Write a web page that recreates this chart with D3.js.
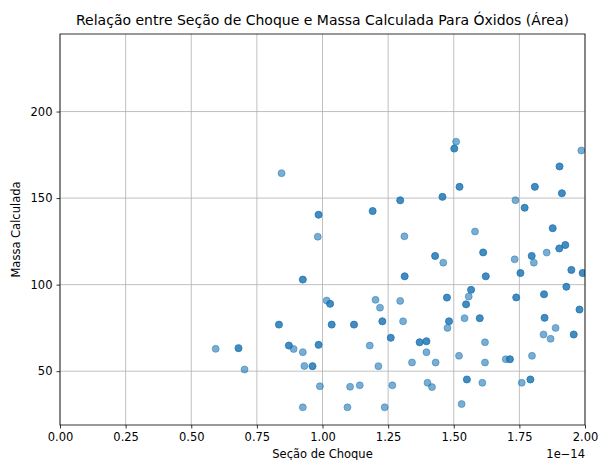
<!DOCTYPE html>
<html>
<head>
<meta charset="utf-8">
<script src="https://cdn.jsdelivr.net/npm/d3@7"></script>
<style>
  body { margin: 0; background: #fff; }
  text { font-family: "DejaVu Sans", sans-serif; fill: #000; }
</style>
</head>
<body>
<svg id="chart" width="600" height="460"></svg>
<script>
// Seção de choque (em unidades de 1e-14) e massa calculada
const secao = [
  0.593, 0.680, 0.680, 0.703, 0.834, 0.834, 0.844, 0.872, 0.872, 0.890,
  0.925, 0.925, 0.925, 0.931, 0.962, 0.962, 0.925, 0.985, 0.985, 0.982,
  0.985, 0.985, 0.990, 1.016, 1.029, 1.029, 1.035, 1.035, 1.095, 1.105,
  1.120, 1.120, 1.142, 1.180, 1.191, 1.191, 1.202, 1.213, 1.219, 1.228,
  1.228, 1.237, 1.260, 1.260, 1.266, 1.296, 1.296, 1.296, 1.307, 1.312,
  1.313, 1.313, 1.341, 1.370, 1.370, 1.396, 1.396, 1.396, 1.400, 1.417,
  1.429, 1.429, 1.431, 1.457, 1.457, 1.460, 1.474, 1.474, 1.476, 1.482,
  1.482, 1.502, 1.502, 1.509, 1.522, 1.522, 1.520, 1.530, 1.541, 1.547,
  1.547, 1.550, 1.550, 1.557, 1.566, 1.566, 1.581, 1.599, 1.599, 1.609,
  1.612, 1.612, 1.619, 1.619, 1.622, 1.622, 1.698, 1.714, 1.714, 1.732,
  1.735, 1.738, 1.738, 1.754, 1.754, 1.759, 1.770, 1.770, 1.792, 1.792,
  1.797, 1.797, 1.798, 1.805, 1.809, 1.809, 1.844, 1.844, 1.842, 1.846,
  1.846, 1.854, 1.869, 1.877, 1.877, 1.888, 1.902, 1.902, 1.903, 1.903,
  1.912, 1.912, 1.925, 1.925, 1.929, 1.929, 1.948, 1.948, 1.957, 1.957,
  1.979, 1.979, 1.986, 1.991, 1.991
];
const massa = [
  62.9, 63.3, 63.3, 51.0, 76.9, 76.9, 164.4, 64.8, 64.8, 62.8,
  61.0, 102.9, 102.9, 53.0, 52.9, 52.9, 29.1, 140.4, 140.4, 127.7,
  65.2, 65.2, 41.3, 90.8, 88.9, 88.9, 76.9, 76.9, 29.1, 41.0,
  76.9, 76.9, 41.8, 64.8, 142.5, 142.5, 91.2, 52.9, 86.7, 78.8,
  78.8, 29.1, 69.3, 69.3, 41.8, 148.7, 148.7, 90.6, 78.8, 127.9,
  104.8, 104.8, 55.0, 66.7, 66.7, 67.3, 67.3, 61.0, 43.3, 40.8,
  116.6, 116.6, 55.0, 150.7, 150.7, 112.7, 92.5, 92.5, 75.0, 78.8,
  78.8, 178.6, 178.6, 182.6, 156.5, 156.5, 58.9, 31.0, 80.6, 88.6,
  88.6, 45.2, 45.2, 93.1, 97.0, 97.0, 130.7, 80.6, 80.6, 43.3,
  118.6, 118.6, 66.7, 55.0, 104.8, 104.8, 56.9, 56.9, 56.9, 114.6,
  148.8, 92.6, 92.6, 106.7, 106.7, 43.3, 144.4, 144.4, 45.2, 45.2,
  116.6, 116.6, 58.9, 112.7, 156.5, 156.5, 94.4, 94.4, 71.2, 80.8,
  80.8, 118.5, 68.7, 132.6, 132.6, 75.0, 120.9, 120.9, 168.3, 168.3,
  152.8, 152.8, 122.9, 122.9, 98.8, 98.8, 108.5, 108.5, 71.2, 71.2,
  85.6, 85.6, 177.5, 106.7, 106.7
];
const xTicks = [0, 0.25, 0.5, 0.75, 1.0, 1.25, 1.5, 1.75, 2.0];
const yTicks = [50, 100, 150, 200];

const svg = d3.select('#chart');
const margin = { top: 34, right: 15, bottom: 35, left: 60 },
      width = 600 - margin.left - margin.right,
      height = 460 - margin.top - margin.bottom;

const g = svg.append('g')
  .attr('transform', `translate(${margin.left},${margin.top})`);

const x = d3.scaleLinear().domain([0, 2.0]).range([0, width]);
const y = d3.scaleLinear().domain([18.9, 244.8]).range([height, 0]);

// grade
g.append('g')
  .selectAll('line')
  .data(xTicks)
  .enter().append('line')
  .attr('x1', d => x(d)).attr('x2', d => x(d))
  .attr('y1', 0).attr('y2', height)
  .attr('stroke', '#b0b0b0').attr('stroke-width', 0.8);
g.append('g')
  .selectAll('line')
  .data(yTicks)
  .enter().append('line')
  .attr('x1', 0).attr('x2', width)
  .attr('y1', d => y(d)).attr('y2', d => y(d))
  .attr('stroke', '#b0b0b0').attr('stroke-width', 0.8);

svg.append('clipPath').attr('id', 'area')
  .append('rect').attr('width', width).attr('height', height);

g.append('g')
  .attr('clip-path', 'url(#area)')
  .selectAll('circle')
  .data(secao.map((s, i) => [s, massa[i]]))
  .enter().append('circle')
  .attr('cx', d => x(d[0]))
  .attr('cy', d => y(d[1]))
  .attr('r', 3.5)
  .attr('fill', '#1f77b4')
  .attr('fill-opacity', 0.6)
  .attr('stroke', '#1f77b4')
  .attr('stroke-opacity', 0.6)
  .attr('stroke-width', 0.8);

const xAxis = g.append('g')
  .attr('transform', `translate(0,${height})`)
  .call(d3.axisBottom(x).tickValues(xTicks).tickFormat(d3.format('.2f')).tickSizeOuter(0).tickSize(3.5).tickPadding(4));
const yAxis = g.append('g')
  .call(d3.axisLeft(y).tickValues(yTicks).tickSizeOuter(0).tickSize(3.5).tickPadding(4));
[xAxis, yAxis].forEach(a => {
  a.select('.domain').remove();
  a.selectAll('text').attr('font-size', 11.5).attr('font-family', '"DejaVu Sans", sans-serif').attr('fill', '#000');
  a.selectAll('line').attr('stroke', '#000').attr('stroke-width', 0.8);
});

g.append('rect')
  .attr('width', width).attr('height', height)
  .attr('fill', 'none').attr('stroke', '#000').attr('stroke-width', 0.8);

svg.append('text')
  .attr('x', margin.left + width / 2).attr('y', 25)
  .attr('text-anchor', 'middle').attr('font-size', 14)
  .text('Relação entre Seção de Choque e Massa Calculada Para Óxidos (Área)');

svg.append('text')
  .attr('x', margin.left + width / 2).attr('y', 458)
  .attr('text-anchor', 'middle').attr('font-size', 11.5)
  .text('Seção de Choque');

svg.append('text')
  .attr('x', margin.left + width).attr('y', 458)
  .attr('text-anchor', 'end').attr('font-size', 11.5)
  .text('1e−14');

svg.append('text')
  .attr('transform', `translate(20,${margin.top + height / 2}) rotate(-90)`)
  .attr('text-anchor', 'middle').attr('font-size', 11.5)
  .text('Massa Calculada');
</script>
</body>
</html>
